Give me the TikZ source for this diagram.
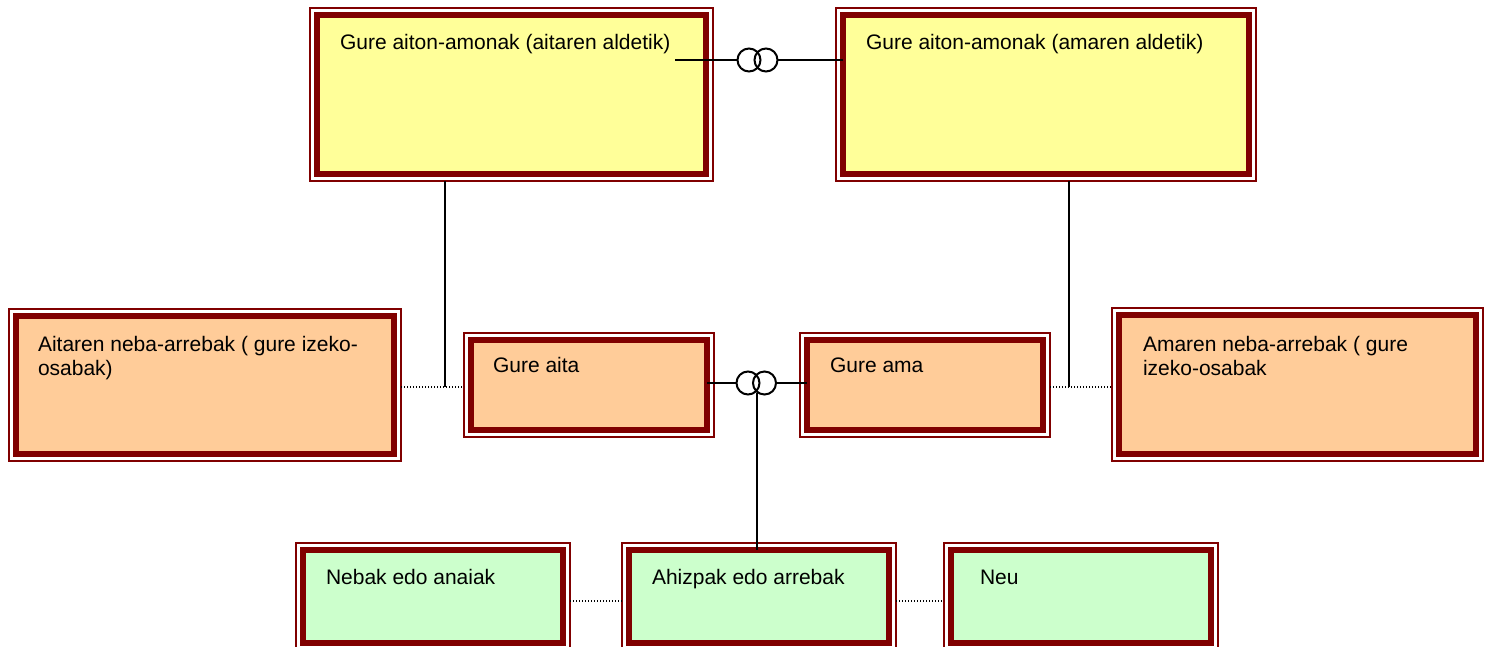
\documentclass[tikz,border=0pt]{standalone}
\usepackage{fontspec}
\setmainfont{Liberation Sans}
\definecolor{dred}{HTML}{800000}
\definecolor{yel}{HTML}{FFFF99}
\definecolor{ora}{HTML}{FFCC99}
\definecolor{grn}{HTML}{CCFFCC}
\tikzset{
  outerbox/.style={rectangle, draw=dred, line width=1.3pt, fill=white, inner sep=0pt, outer sep=0pt},
  bandbox/.style={rectangle, draw=dred, line width=6.5pt, inner sep=0pt, outer sep=0pt},
  lbl/.style={inner sep=0pt, outer sep=0pt, anchor=base west, align=left, font=\fontsize{21}{24}\selectfont, text=black},
  conn/.style={draw=black, line width=2pt},
  dotline/.style={draw=black, line width=1.2pt, dash pattern=on 1.2pt off 1.8pt},
  ring/.style={circle, draw=black, line width=2pt, inner sep=0pt, outer sep=0pt, minimum size=23pt}
}
\begin{document}
\begin{tikzpicture}[x=1pt,y=-1pt]
\useasboundingbox (0,0) rectangle (1485,647);
\clip (0,0) rectangle (1485,647);
% top row
\node[outerbox, minimum width=403pt, minimum height=173pt] (gp1) at (511.5,94.5) {};
\node[bandbox, fill=yel, minimum width=389pt, minimum height=159pt] (gp1i) at (gp1) {};
\node[outerbox, minimum width=420pt, minimum height=173pt] (gp2) at (1046,94.5) {};
\node[bandbox, fill=yel, minimum width=406pt, minimum height=159pt] (gp2i) at (gp2) {};
% middle row
\node[outerbox, minimum width=392pt, minimum height=152pt] (au1) at (205,385) {};
\node[bandbox, fill=ora, minimum width=378pt, minimum height=138pt] (au1i) at (au1) {};
\node[outerbox, minimum width=250pt, minimum height=104pt] (aita) at (589,385) {};
\node[bandbox, fill=ora, minimum width=236pt, minimum height=90pt] (aitai) at (aita) {};
\node[outerbox, minimum width=250pt, minimum height=104pt] (ama) at (925,385) {};
\node[bandbox, fill=ora, minimum width=236pt, minimum height=90pt] (amai) at (ama) {};
\node[outerbox, minimum width=371pt, minimum height=153pt] (au2) at (1297.5,384.5) {};
\node[bandbox, fill=ora, minimum width=357pt, minimum height=139pt] (au2i) at (au2) {};
% bottom row
\node[outerbox, minimum width=274pt, minimum height=107pt] (neb) at (433,596.5) {};
\node[bandbox, fill=grn, minimum width=260pt, minimum height=93pt] (nebi) at (neb) {};
\node[outerbox, minimum width=274pt, minimum height=107pt] (ahi) at (759,596.5) {};
\node[bandbox, fill=grn, minimum width=260pt, minimum height=93pt] (ahii) at (ahi) {};
\node[outerbox, minimum width=274pt, minimum height=107pt] (neu) at (1081,596.5) {};
\node[bandbox, fill=grn, minimum width=260pt, minimum height=93pt] (neui) at (neu) {};
% texts
\node[lbl] (t1) at (340,50) {Gure aiton-amonak (aitaren aldetik)};
\node[lbl] (t2) at (866,50) {Gure aiton-amonak (amaren aldetik)};
\node[lbl] (t3) at (38,375) {Aitaren neba-arrebak ( gure izeko-\\osabak)};
\node[lbl] (t4) at (493,372) {Gure aita};
\node[lbl] (t5) at (830,372) {Gure ama};
\node[lbl] (t6) at (1143,375) {Amaren neba-arrebak ( gure\\izeko-osabak};
\node[lbl] (t7) at (326,584) {Nebak edo anaiak};
\node[lbl] (t8) at (652,584) {Ahizpak edo arrebak};
\node[lbl] (t9) at (980,584) {Neu};
% marriage top
\node[ring] (r1a) at (749,60) {};
\node[ring] (r1b) at (766,60) {};
\coordinate (m1s) at (675,60);
\draw[conn] (m1s) -- (r1a.west);
\draw[conn] (r1b.east) -- (gp2i.west |- r1b.east);
% marriage middle
\node[ring] (r2a) at (748,383) {};
\node[ring] (r2b) at (764.5,383) {};
\draw[conn] (aitai.east |- r2a) -- (r2a.west);
\draw[conn] (r2b.east) -- (amai.west |- r2b);
\coordinate (m2) at (757,393);
\draw[conn] (m2) -- (m2 |- ahii.north);
% grandparents to children
\coordinate (j1) at (445,387);
\draw[conn] (gp1.south -| j1) -- (j1);
\draw[dotline] (au1.east |- j1) -- (aita.west |- j1);
\coordinate (j2) at (1069,387);
\draw[conn] (gp2.south -| j2) -- (j2);
\draw[dotline] (ama.east |- j2) -- (au2.west |- j2);
% siblings
\draw[dotline] ([yshift=-4.5pt]neb.east) -- ([yshift=-4.5pt]ahi.west);
\draw[dotline] ([yshift=-4.5pt]ahi.east) -- ([yshift=-4.5pt]neu.west);
\end{tikzpicture}
\end{document}
